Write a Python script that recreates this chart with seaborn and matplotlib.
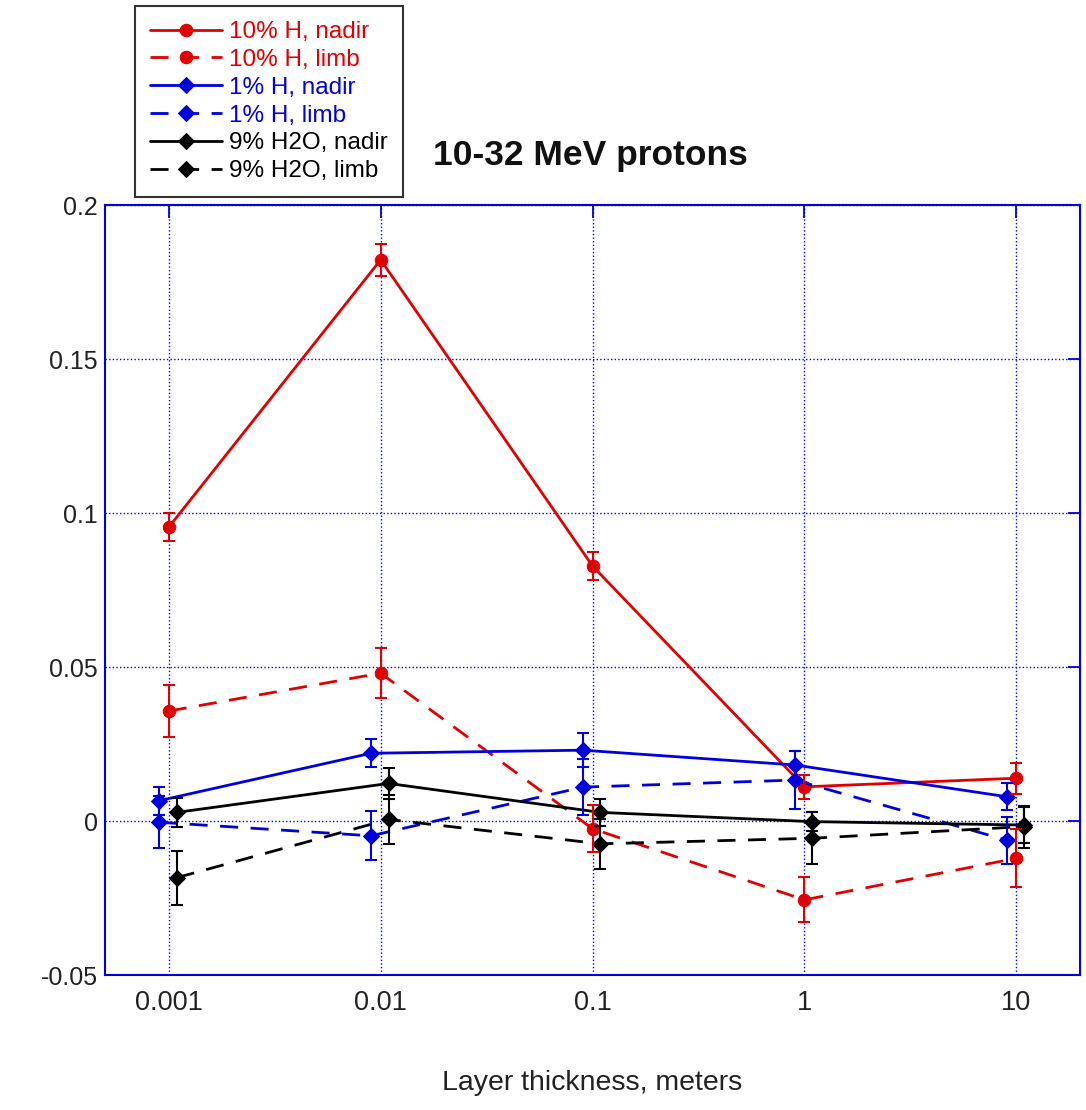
import matplotlib
matplotlib.use("Agg")
import matplotlib.pyplot as plt
import seaborn as sns

# Layer thickness values (meters) and series values with 1-sigma errors
thickness = [0.001, 0.01, 0.1, 1, 10]
tick_labels = ["0.001", "0.01", "0.1", "1", "10"]

h10_nadir = [0.0954, 0.1822, 0.0828, 0.0111, 0.0139]
h10_nadir_err = [0.0046, 0.0052, 0.0045, 0.0040, 0.0050]
h10_limb = [0.0357, 0.0480, -0.0025, -0.0256, -0.0121]
h10_limb_err = [0.0085, 0.0082, 0.0076, 0.0073, 0.0094]

h1_nadir = [0.0066, 0.0220, 0.0230, 0.0182, 0.0079]
h1_nadir_err = [0.0046, 0.0046, 0.0055, 0.0046, 0.0044]
h1_limb = [-0.0004, -0.0048, 0.0110, 0.0133, -0.0062]
h1_limb_err = [0.0085, 0.0080, 0.0090, 0.0095, 0.0076]

w9_nadir = [0.0028, 0.0122, 0.0028, -0.0002, -0.0013]
w9_nadir_err = [0.0048, 0.0050, 0.0044, 0.0030, 0.0057]
w9_limb = [-0.0184, 0.0005, -0.0074, -0.0056, -0.0018]
w9_limb_err = [0.0088, 0.0080, 0.0082, 0.0084, 0.0068]

labels = ["10% H, nadir", "10% H, limb", "1% H, nadir", "1% H, limb",
          "9% H2O, nadir", "9% H2O, limb"]

RED = "#e00000"
BLUE = "#0000dd"
BLACK = "#000000"

sns.set_theme(style="white")
plt.rcParams["font.family"] = ["Liberation Sans", "DejaVu Sans"]
plt.rcParams["lines.scale_dashes"] = False

fig = plt.figure(figsize=(10.86, 11.10), dpi=100)
ax = fig.add_axes([0.0967, 0.1216, 0.8978, 0.6937])

DASH = (0, (13, 9))
# (values, errors, colour, marker, linestyle, horizontal offset factor)
series = [
    (h10_nadir, h10_nadir_err, RED, "o", "-", 1.0),
    (h10_limb, h10_limb_err, RED, "o", DASH, 1.0),
    (h1_nadir, h1_nadir_err, BLUE, "D", "-", 0.9),
    (h1_limb, h1_limb_err, BLUE, "D", DASH, 0.9),
    (w9_nadir, w9_nadir_err, BLACK, "D", "-", 1.09),
    (w9_limb, w9_limb_err, BLACK, "D", DASH, 1.09),
]

for (vals, errs, col, mk, ls, shift), lab in zip(series, labels):
    xs = [t * shift for t in thickness]
    ms = 9 if mk == "o" else 8
    sns.lineplot(x=xs, y=vals, ax=ax, color=col, marker=mk, markersize=ms,
                 markeredgecolor=col, markerfacecolor=col, linestyle=ls,
                 linewidth=2.0, label=lab, errorbar=None, sort=False)
    ax.errorbar(xs, vals, yerr=errs, fmt="none", ecolor=col, elinewidth=1.5,
                capsize=4.5, capthick=1.5, zorder=3)

ax.set_xscale("log")
ax.set_xlim(0.0005, 20)
ax.set_ylim(-0.05, 0.2)
ax.set_xticks(thickness)
ax.set_xticklabels(tick_labels)
ax.minorticks_off()
ax.set_yticks([-0.05, 0, 0.05, 0.1, 0.15, 0.2])
ax.set_yticklabels(["-0.05", "0", "0.05", "0.1", "0.15", "0.2"])

ax.grid(True, which="major", color="#0000ff", linestyle=(0, (1, 1.6)), linewidth=1.0)
for sp in ax.spines.values():
    sp.set_visible(True)
    sp.set_color("#0000dd")
    sp.set_linewidth(1.5)
ax.tick_params(axis="both", which="major", direction="in", length=9, width=1.3,
               color="#0000dd", top=True, right=True, labelsize=18,
               labelcolor="#222222")
ax.tick_params(axis="x", pad=11, labelsize=19.5)
ax.tick_params(axis="y", pad=5)

ax.set_xlabel("Layer thickness, meters", fontsize=20.5, color="#222222")
ax.xaxis.set_label_coords(0.5, -0.123)
ax.set_ylabel("")

fig.text(0.544, 1 - 155 / 1110, "10-32 MeV protons", fontsize=25.5,
         fontweight="bold", ha="center", va="center", color="#111111")

if ax.get_legend():
    ax.get_legend().remove()
handles, lbls = ax.get_legend_handles_labels()
leg = fig.legend(handles, lbls, loc="upper left",
                 bbox_to_anchor=(135 / 1086, 1 - 6 / 1110),
                 fontsize=17.5, frameon=True, fancybox=False,
                 edgecolor="black", handlelength=2.95, handletextpad=0.3,
                 labelspacing=0.24, borderpad=0.62, borderaxespad=0)
leg.get_frame().set_linewidth(1.5)
for txt, (_, _, col, _, _, _) in zip(leg.get_texts(), series):
    txt.set_color(col)

fig.savefig("out.png", dpi=100)
